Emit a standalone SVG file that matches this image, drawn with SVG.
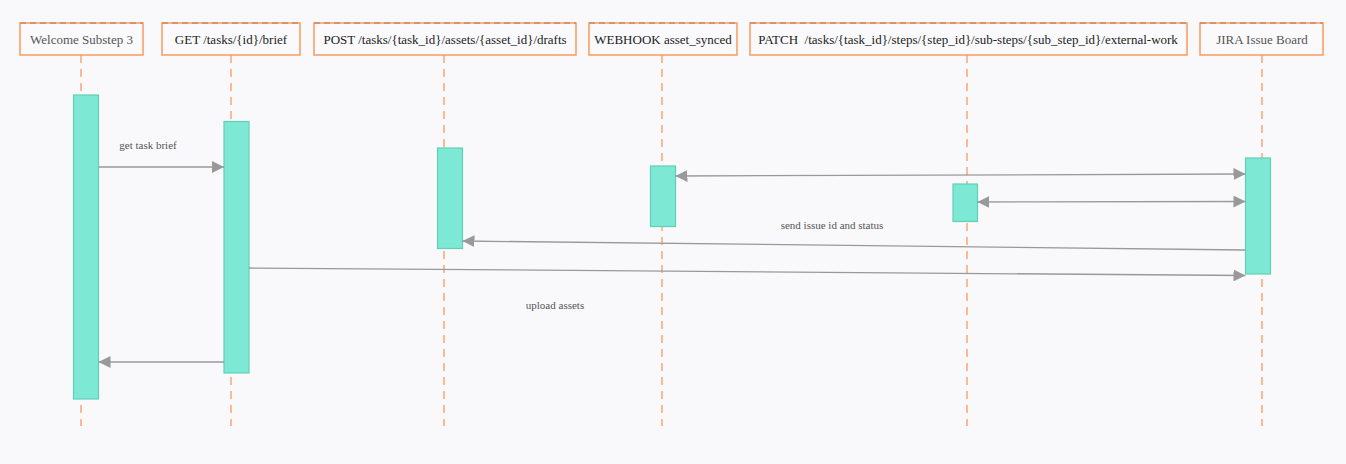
<svg xmlns="http://www.w3.org/2000/svg" width="1346" height="464" viewBox="0 0 1346 464">
<defs>
<marker id="arr" viewBox="0 0 10 10" refX="10" refY="5" markerWidth="12" markerHeight="12" markerUnits="userSpaceOnUse" orient="auto-start-reverse">
<path d="M0,0 L10,5 L0,10 z" fill="#999"/>
</marker>
<style>
.box{fill:#fafafc;stroke:#f79a5d;stroke-width:1.5}
.top{stroke:#c98a65;stroke-width:1.5;stroke-dasharray:6 4;fill:none}
.life{stroke:#f7a57a;stroke-width:1.5;stroke-dasharray:8 6;fill:none}
.act{fill:#7de8d3;stroke:#5fd0b6;stroke-width:1.2}
.msg{stroke:#999;stroke-width:1.3;fill:none}
.t1{font-family:"Liberation Serif",serif;font-size:13px;fill:#555}
.t2{font-family:"Liberation Serif",serif;font-size:13px;fill:#222}
.lbl{font-family:"Liberation Serif",serif;font-size:11px;fill:#555}
</style>
</defs>
<rect x="0" y="0" width="1346" height="464" fill="#f9f9fb"/>
<g id="lifelines">
<line class="life" x1="81" y1="55" x2="81" y2="426"/>
<line class="life" x1="231" y1="55" x2="231" y2="426"/>
<line class="life" x1="444" y1="55" x2="444" y2="426"/>
<line class="life" x1="662" y1="55" x2="662" y2="426"/>
<line class="life" x1="967" y1="55" x2="967" y2="426"/>
<line class="life" x1="1262" y1="55" x2="1262" y2="426"/>
</g>
<g id="n-welcome">
<rect class="box" x="20" y="23" width="123" height="32"/>
<line class="top" x1="20" y1="23" x2="143" y2="23"/>
<text class="t1" x="81.5" y="44" text-anchor="middle">Welcome Substep 3</text>
<rect class="act" x="73.5" y="95" width="25" height="304"/>
</g>
<g id="n-get">
<rect class="box" x="162" y="23" width="138" height="32"/>
<line class="top" x1="162" y1="23" x2="300" y2="23"/>
<text class="t2" x="231" y="44" text-anchor="middle">GET /tasks/{id}/brief</text>
<rect class="act" x="224" y="121.5" width="25" height="251.5"/>
</g>
<g id="n-post">
<rect class="box" x="314" y="23" width="262" height="32"/>
<line class="top" x1="314" y1="23" x2="576" y2="23"/>
<text class="t2" x="445" y="44" text-anchor="middle">POST /tasks/{task_id}/assets/{asset_id}/drafts</text>
<rect class="act" x="437.5" y="148" width="25" height="100.5"/>
</g>
<g id="n-webhook">
<rect class="box" x="589" y="23" width="148" height="32"/>
<line class="top" x1="589" y1="23" x2="737" y2="23"/>
<text class="t2" x="663" y="44" text-anchor="middle">WEBHOOK asset_synced</text>
<rect class="act" x="650.5" y="166" width="25" height="60.5"/>
</g>
<g id="n-patch">
<rect class="box" x="750" y="23" width="437" height="32"/>
<line class="top" x1="750" y1="23" x2="1187" y2="23"/>
<text class="t2" x="968" y="44" text-anchor="middle" xml:space="preserve">PATCH  /tasks/{task_id}/steps/{step_id}/sub-steps/{sub_step_id}/external-work</text>
<rect class="act" x="953" y="184" width="24.5" height="37.5"/>
</g>
<g id="n-jira">
<rect class="box" x="1200" y="23" width="123" height="32"/>
<line class="top" x1="1200" y1="23" x2="1323" y2="23"/>
<text class="t1" x="1262" y="44" text-anchor="middle">JIRA Issue Board</text>
<rect class="act" x="1245.5" y="158" width="25" height="116"/>
</g>
<g id="connectors">
<line class="msg" x1="98.5" y1="167" x2="224" y2="167" marker-end="url(#arr)"/>
<text class="lbl" x="148" y="149" text-anchor="middle">get task brief</text>
<line class="msg" x1="675.5" y1="176" x2="1245.5" y2="174" marker-start="url(#arr)" marker-end="url(#arr)"/>
<line class="msg" x1="977.5" y1="202" x2="1245.5" y2="201.5" marker-start="url(#arr)" marker-end="url(#arr)"/>
<line class="msg" x1="1245.5" y1="250" x2="462.5" y2="241" marker-end="url(#arr)"/>
<text class="lbl" x="832" y="229" text-anchor="middle">send issue id and status</text>
<line class="msg" x1="249" y1="268" x2="1245.5" y2="275.5" marker-end="url(#arr)"/>
<text class="lbl" x="555" y="309" text-anchor="middle">upload assets</text>
<line class="msg" x1="224" y1="362" x2="98.5" y2="362" marker-end="url(#arr)"/>
</g>
</svg>
